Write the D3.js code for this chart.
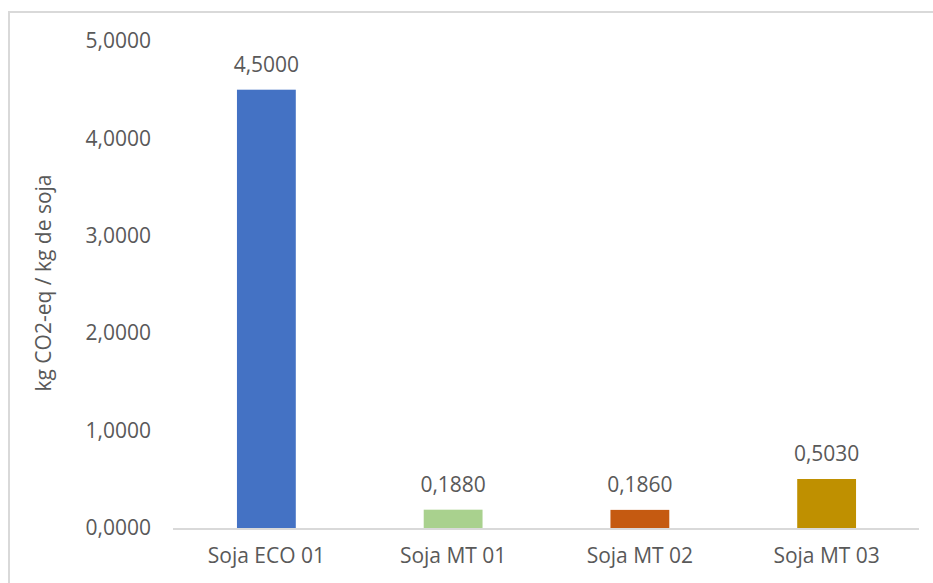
<!DOCTYPE html>
<html>
<head>
<meta charset="utf-8">
<script src="https://cdn.jsdelivr.net/npm/d3@7"></script>
<style>
  body { margin: 0; background: #fff; }
  text { font-family: "Open Sans", "Noto Sans", sans-serif; fill: #595959; }
</style>
</head>
<body>
<div id="chart"></div>
<script>
// data
const categories = ["Soja ECO 01", "Soja MT 01", "Soja MT 02", "Soja MT 03"];
const values = [4.5, 0.188, 0.186, 0.503];
const colors = ["#4472C4", "#A9D18E", "#C55A11", "#BF9000"];
const yTicks = [0, 1, 2, 3, 4, 5];
const yTitle = "kg CO2-eq / kg de soja";

const width = 933;
const height = 583;
const marginLeft = 173;
const marginRight = 12;
const marginTop = 41;
const marginBottom = 55;
const chartWidth = width - marginLeft - marginRight;
const chartHeight = height - marginTop - marginBottom;

const fmt = (v) => v.toFixed(4).replace(".", ",");

const svg = d3.select("#chart")
  .append("svg")
  .attr("width", width)
  .attr("height", height);

// outer frame
svg.append("rect")
  .attr("x", 9)
  .attr("y", 12)
  .attr("width", width)
  .attr("height", height)
  .attr("fill", "none")
  .attr("stroke", "#d9d9d9")
  .attr("stroke-width", 2);

const g = svg.append("g")
  .attr("transform", `translate(${marginLeft}, ${marginTop})`);

// scales
const xScale = d3.scaleBand()
  .domain(categories)
  .range([0, chartWidth - 1])
  .paddingInner(0.685)
  .paddingOuter(0.3425);

const yScale = d3.scaleLinear()
  .domain([0, 5])
  .range([chartHeight, 0]);

// y axis (labels only)
const yAxis = d3.axisLeft(yScale)
  .tickValues(yTicks)
  .tickFormat(fmt)
  .tickSize(0)
  .tickPadding(22);

g.append("g")
  .attr("class", "axis")
  .call(yAxis)
  .call((a) => a.select(".domain").remove())
  .selectAll("text")
  .style("font-size", "21px")
  .attr("fill", "#595959");

// bars
g.append("g")
  .selectAll("rect")
  .data(values)
  .join("rect")
  .attr("x", (d, i) => xScale(categories[i]))
  .attr("y", (d) => yScale(d))
  .attr("width", xScale.bandwidth())
  .attr("height", (d) => yScale(0) - yScale(d))
  .attr("fill", (d, i) => colors[i]);

// baseline
g.append("line")
  .attr("x1", 0)
  .attr("x2", chartWidth - 2)
  .attr("y1", yScale(0) + 1)
  .attr("y2", yScale(0) + 1)
  .attr("stroke", "#d9d9d9")
  .attr("stroke-width", 2);

// x axis labels
const xAxis = d3.axisBottom(xScale).tickSize(0).tickPadding(20);
g.append("g")
  .attr("transform", `translate(0, ${chartHeight})`)
  .call(xAxis)
  .call((a) => a.select(".domain").remove())
  .selectAll("text")
  .style("font-size", "21px")
  .attr("fill", "#595959");

// data labels
g.append("g")
  .selectAll("text")
  .data(values)
  .join("text")
  .attr("x", (d, i) => xScale(categories[i]) + xScale.bandwidth() / 2)
  .attr("y", (d) => yScale(d) - 18)
  .attr("text-anchor", "middle")
  .style("font-size", "21px")
  .text((d) => fmt(d));

// y title
svg.append("text")
  .attr("transform", `translate(51, ${283}) rotate(-90)`)
  .attr("text-anchor", "middle")
  .style("font-size", "21px")
  .text(yTitle);
</script>
</body>
</html>
